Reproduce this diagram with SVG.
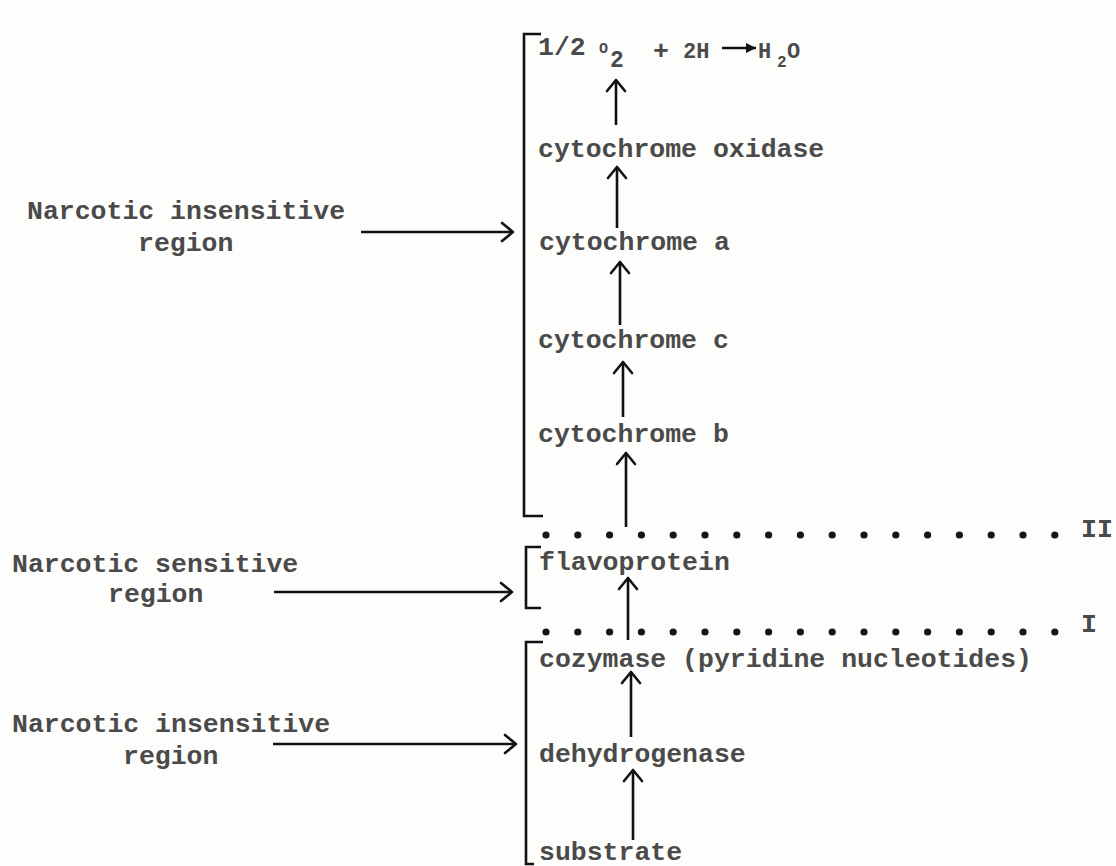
<svg xmlns="http://www.w3.org/2000/svg" width="1116" height="866" viewBox="0 0 1116 866">
  <defs>
    <marker id="chev" markerUnits="userSpaceOnUse" markerWidth="16" markerHeight="22" viewBox="0 0 16 22" refX="13" refY="11" orient="auto">
      <path d="M2,2 L13,11 L2,20" fill="none" stroke="#111" stroke-width="2.6" stroke-linecap="round" stroke-linejoin="round"/>
    </marker>
    <style>
      .t { font-family: "Liberation Mono", "Courier New", monospace; font-weight: bold; font-size: 26.5px; fill: #4a4a4a; }
      .ln { stroke: #111; stroke-width: 2.6; fill: none; }
      .br { stroke: #111; stroke-width: 2.6; fill: none; stroke-linejoin: miter; }
      .dot { fill: #151515; }
    </style>
  </defs>
  <rect width="1116" height="866" fill="#fdfdfb"/>

  <!-- brackets -->
  <g id="brackets">
    <path class="br" d="M541,34 H524 V516 H543"/>
    <path class="br" d="M541,547 H526 V608 H541"/>
    <path class="br" d="M543,642 H526 V864 H534"/>
  </g>

  <!-- dotted boundaries -->
  <g id="boundary-II">
    <circle class="dot" cx="546" cy="535" r="3.6"/><circle class="dot" cx="577.8" cy="535" r="3.6"/><circle class="dot" cx="609.6" cy="535" r="3.6"/><circle class="dot" cx="641.4" cy="535" r="3.6"/><circle class="dot" cx="673.2" cy="535" r="3.6"/><circle class="dot" cx="705" cy="535" r="3.6"/><circle class="dot" cx="736.8" cy="535" r="3.6"/><circle class="dot" cx="768.6" cy="535" r="3.6"/><circle class="dot" cx="800.4" cy="535" r="3.6"/><circle class="dot" cx="832.2" cy="535" r="3.6"/><circle class="dot" cx="864" cy="535" r="3.6"/><circle class="dot" cx="895.8" cy="535" r="3.6"/><circle class="dot" cx="927.6" cy="535" r="3.6"/><circle class="dot" cx="959.4" cy="535" r="3.6"/><circle class="dot" cx="991.2" cy="535" r="3.6"/><circle class="dot" cx="1023" cy="535" r="3.6"/><circle class="dot" cx="1054.8" cy="535" r="3.6"/>
    <text class="t" x="1081" y="537">II</text>
  </g>
  <g id="boundary-I">
    <circle class="dot" cx="546" cy="632" r="3.6"/><circle class="dot" cx="577.8" cy="632" r="3.6"/><circle class="dot" cx="609.6" cy="632" r="3.6"/><circle class="dot" cx="641.4" cy="632" r="3.6"/><circle class="dot" cx="673.2" cy="632" r="3.6"/><circle class="dot" cx="705" cy="632" r="3.6"/><circle class="dot" cx="736.8" cy="632" r="3.6"/><circle class="dot" cx="768.6" cy="632" r="3.6"/><circle class="dot" cx="800.4" cy="632" r="3.6"/><circle class="dot" cx="832.2" cy="632" r="3.6"/><circle class="dot" cx="864" cy="632" r="3.6"/><circle class="dot" cx="895.8" cy="632" r="3.6"/><circle class="dot" cx="927.6" cy="632" r="3.6"/><circle class="dot" cx="959.4" cy="632" r="3.6"/><circle class="dot" cx="991.2" cy="632" r="3.6"/><circle class="dot" cx="1023" cy="632" r="3.6"/><circle class="dot" cx="1054.8" cy="632" r="3.6"/>
    <text class="t" x="1081" y="632">I</text>
  </g>

  <!-- nodes -->
  <g id="water">
    <text class="t" x="538" y="55">1/2</text>
    <text class="t" x="599" y="53" style="font-size:15px">O</text>
    <text class="t" x="610" y="67" style="font-size:23px">2</text>
    <text class="t" x="653" y="59">+</text>
    <text class="t" x="683" y="58" style="font-size:22px">2H</text>
    <line class="ln" x1="722" y1="48" x2="756" y2="48" stroke-width="2.4"/>
    <path d="M756,48 L746,43 L746,53 Z" fill="#111"/>
    <text class="t" x="758" y="58" style="font-size:22px">H</text>
    <text class="t" x="777" y="67" style="font-size:16px">2</text>
    <text class="t" x="787" y="58" style="font-size:22px">O</text>
  </g>
  <g id="cyt-oxidase"><text class="t" x="538" y="157">cytochrome oxidase</text></g>
  <g id="cyt-a"><text class="t" x="539" y="250">cytochrome a</text></g>
  <g id="cyt-c"><text class="t" x="538" y="348">cytochrome c</text></g>
  <g id="cyt-b"><text class="t" x="538" y="442">cytochrome b</text></g>
  <g id="flavoprotein"><text class="t" x="539" y="570">flavoprotein</text></g>
  <g id="cozymase"><text class="t" x="539" y="667">cozymase (pyridine nucleotides)</text></g>
  <g id="dehydrogenase"><text class="t" x="539" y="762">dehydrogenase</text></g>
  <g id="substrate"><text class="t" x="539" y="860">substrate</text></g>

  <g id="label-insensitive-top">
    <text class="t" x="27" y="219">Narcotic insensitive</text>
    <text class="t" x="138" y="251">region</text>
  </g>
  <g id="label-sensitive">
    <text class="t" x="12" y="572">Narcotic sensitive</text>
    <text class="t" x="108" y="602">region</text>
  </g>
  <g id="label-insensitive-bottom">
    <text class="t" x="12" y="732">Narcotic insensitive</text>
    <text class="t" x="123" y="764">region</text>
  </g>

  <!-- connectors -->
  <g id="connectors">
    <line class="ln" x1="616" y1="125" x2="616" y2="80" marker-end="url(#chev)"/>
    <line class="ln" x1="617" y1="228" x2="617" y2="167" marker-end="url(#chev)"/>
    <line class="ln" x1="620" y1="325" x2="620" y2="262" marker-end="url(#chev)"/>
    <line class="ln" x1="623" y1="417" x2="623" y2="362" marker-end="url(#chev)"/>
    <line class="ln" x1="626" y1="527" x2="626" y2="453" marker-end="url(#chev)"/>
    <line class="ln" x1="628" y1="640" x2="628" y2="578" marker-end="url(#chev)"/>
    <line class="ln" x1="631" y1="737" x2="631" y2="672" marker-end="url(#chev)"/>
    <line class="ln" x1="633" y1="840" x2="633" y2="770" marker-end="url(#chev)"/>
    <line class="ln" x1="361" y1="232" x2="513" y2="232" marker-end="url(#chev)"/>
    <line class="ln" x1="274" y1="592" x2="512" y2="592" marker-end="url(#chev)"/>
    <line class="ln" x1="273" y1="744" x2="516" y2="744" marker-end="url(#chev)"/>
  </g>
</svg>
